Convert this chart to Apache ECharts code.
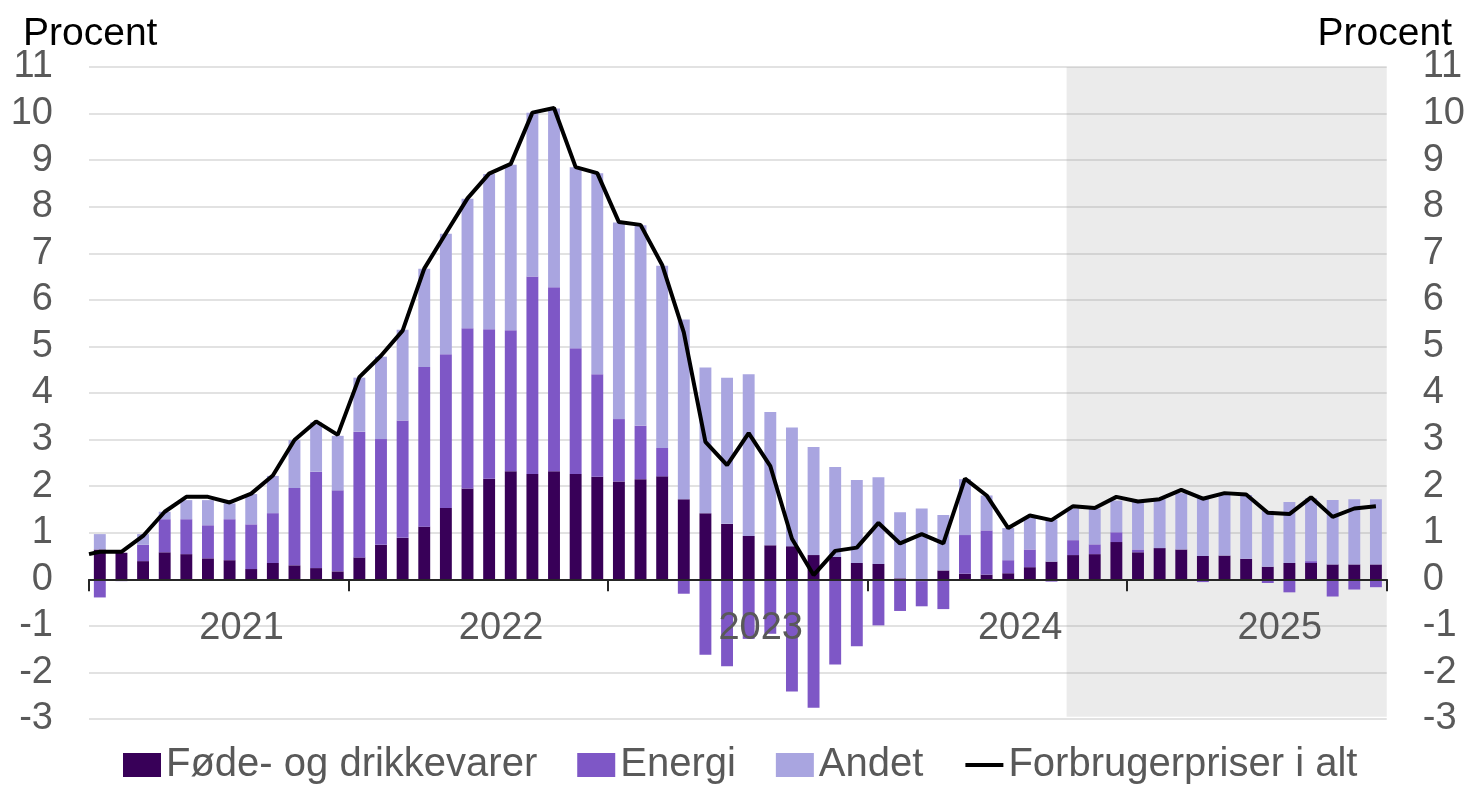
<!DOCTYPE html>
<html>
<head>
<meta charset="utf-8">
<script src="https://cdn.jsdelivr.net/npm/echarts@6/dist/echarts.min.js"></script>
<style>
html, body { margin: 0; padding: 0; background: #fff; }
#main { width: 1468px; height: 786px; }
</style>
</head>
<body>
<div id="main"></div>
<script>
// år og måneder (jan 2021 - dec 2025)
var years = ['2021', '2022', '2023', '2024', '2025'];
var months = [];
for (var y = 0; y < years.length; y++)
    for (var m = 1; m <= 12; m++) {
    months.push(years[y] + 'M' + (m < 10 ? '0' + m : m));
}

// bidrag, procentpoint
var foede = [
    0.64, 0.57, 0.39, 0.58, 0.54, 0.45, 0.41, 0.22, 0.35, 0.30, 0.24, 0.17,
    0.47, 0.74, 0.89, 1.13, 1.53, 1.95, 2.16, 2.32, 2.26, 2.32, 2.26, 2.20,
    2.10, 2.15, 2.21, 1.72, 1.42, 1.19, 0.93, 0.73, 0.71, 0.52, 0.48, 0.35,
    0.33, 0.02, -0.04, 0.19, 0.12, 0.10, 0.13, 0.26, 0.38, 0.52, 0.54, 0.80,
    0.58, 0.67, 0.64, 0.50, 0.51, 0.44, 0.27, 0.35, 0.35, 0.32, 0.32, 0.32
];
var energi = [
    -0.39, -0.04, 0.35, 0.71, 0.75, 0.71, 0.88, 0.96, 1.07, 1.66, 2.07, 1.74,
    2.70, 2.27, 2.52, 3.43, 3.30, 3.44, 3.21, 3.03, 4.24, 3.95, 2.70, 2.20,
    1.34, 1.15, 0.61, -0.31, -1.62, -1.87, -1.28, -1.17, -2.41, -2.76, -1.83, -1.44,
    -0.99, -0.68, -0.54, -0.64, 0.83, 0.95, 0.28, 0.38, -0.05, 0.32, 0.21, 0.21,
    0.06, 0, 0, -0.06, 0, 0, -0.08, -0.28, 0.04, -0.37, -0.22, -0.17
];
var andet = [
    0.33, 0, 0.23, 0.16, 0.41, 0.54, 0.34, 0.65, 0.80, 1.03, 1.06, 1.17,
    1.16, 1.77, 1.95, 2.11, 2.59, 2.78, 3.33, 3.55, 3.52, 3.84, 3.89, 4.32,
    4.22, 4.30, 3.91, 3.86, 3.13, 3.14, 3.47, 2.86, 2.55, 2.32, 1.93, 1.78,
    1.86, 1.42, 1.52, 1.19, 1.20, 0.75, 0.69, 0.68, 0.90, 0.68, 0.77, 0.68,
    1.03, 1.05, 1.21, 1.24, 1.30, 1.37, 1.20, 1.31, 1.35, 1.38, 1.40, 1.40
];
var forbrugerpriser = [
    0.59, 0.59, 0.93, 1.45, 1.77, 1.77, 1.65, 1.84, 2.23, 2.99, 3.39, 3.10,
    4.34, 4.80, 5.34, 6.67, 7.43, 8.18, 8.71, 8.92, 10.02, 10.12, 8.85, 8.72,
    7.67, 7.61, 6.75, 5.30, 2.95, 2.45, 3.14, 2.43, 0.87, 0.09, 0.61, 0.68,
    1.21, 0.77, 0.97, 0.77, 2.16, 1.80, 1.10, 1.37, 1.27, 1.57, 1.53, 1.77,
    1.67, 1.72, 1.92, 1.73, 1.85, 1.82, 1.43, 1.40, 1.76, 1.34, 1.52, 1.57
];
var forbrugerpriserStart = 0.54; // linjen starter ved venstre kant
var prognoseFra = 45.2; // fra okt 2024 -> skygget område
var prognoseTil = 60.4;

var yTicks = { min: -3, max: 11, interval: 1 };

var font = 'Liberation Sans, Arial, sans-serif';
var grey = '#595959';

// linjen ligger på en skjult værdiakse (0..60) så den kan starte ved kanten
var linjeData = [[0, forbrugerpriserStart]];
for (var i = 0; i < forbrugerpriser.length; i++) {
    linjeData.push([i + 0.5, forbrugerpriser[i]]);
}

var yLabel = {
    color: grey,
    fontSize: 38,
    fontFamily: font,
    margin: 36
};

var gridTop = 67, gridBottom = 67, plotH = 786 - gridTop - gridBottom;
// x-aksen ligger ved 0: flyt den op fra bunden
var zeroOffset = -plotH * (0 - yTicks.min) / (yTicks.max - yTicks.min);

option = {
    animation: false,
    backgroundColor: '#fff',
    title: [
        { text: 'Procent', left: 23, top: 15, padding: 0,
          textStyle: { color: '#000', fontSize: 39, fontWeight: 'normal', fontFamily: font } },
        { text: 'Procent', right: 16, top: 15, padding: 0,
          textStyle: { color: '#000', fontSize: 39, fontWeight: 'normal', fontFamily: font } }
    ],
    grid: { left: 89, right: 81, top: gridTop, bottom: gridBottom },
    legend: {
        left: 123,
        top: 745,
        padding: 0,
        itemGap: 40,
        itemWidth: 38,
        itemHeight: 24,
        textStyle: { color: grey, fontSize: 40, fontFamily: font },
        data: [
            { name: 'Føde- og drikkevarer', icon: 'rect' },
            { name: 'Energi', icon: 'rect' },
            { name: 'Andet', icon: 'rect' },
            { name: 'Forbrugerpriser i alt', itemStyle: { opacity: 0 },
              lineStyle: { width: 4, color: '#000' } }
        ]
    },
    xAxis: [
        {
            type: 'category',
            data: months,
            position: 'bottom',
            offset: zeroOffset,
            zlevel: 1,
            z: 10,
            axisLine: { onZero: false, lineStyle: { color: '#262626', width: 2 } },
            axisTick: {
                show: true,
                interval: function (idx) { return idx % 12 === 0; },
                length: 12,
                lineStyle: { color: '#262626', width: 2 }
            },
            axisLabel: {
                interval: function (idx) { return idx % 12 === 6; },
                formatter: function (v) { return v.slice(0, 4); },
                color: grey,
                fontSize: 38,
                fontFamily: font,
                margin: 30,
                padding: [0, 0, 0, 24]
            },
            splitLine: { show: false }
        },
        {
            type: 'value',
            min: 0,
            max: 60,
            show: false
        }
    ],
    yAxis: [
        {
            type: 'value',
            min: yTicks.min,
            max: yTicks.max,
            interval: yTicks.interval,
            position: 'left',
            axisLine: { show: false },
            axisTick: { show: false },
            axisLabel: yLabel,
            splitLine: { lineStyle: { color: '#D9D9D9', width: 1.5 } }
        },
        {
            type: 'value',
            min: yTicks.min,
            max: yTicks.max,
            interval: yTicks.interval,
            position: 'right',
            axisLine: { show: false },
            axisTick: { show: false },
            axisLabel: yLabel,
            splitLine: { show: false }
        }
    ],
    series: [
        {
            name: 'Føde- og drikkevarer',
            type: 'bar',
            stack: 'bidrag',
            barCategoryGap: '45%',
            itemStyle: { color: '#380058' },
            data: foede
        },
        {
            name: 'Energi',
            type: 'bar',
            stack: 'bidrag',
            itemStyle: { color: '#7E57C6' },
            data: energi
        },
        {
            name: 'Andet',
            type: 'bar',
            stack: 'bidrag',
            itemStyle: { color: '#A9A5E0' },
            data: andet
        },
        {
            name: 'Forbrugerpriser i alt',
            type: 'line',
            xAxisIndex: 1,
            symbol: 'none',
            lineStyle: { color: '#000', width: 4 },
            itemStyle: { color: '#000' },
            data: linjeData,
            z: 5
        },
        {
            type: 'line',
            xAxisIndex: 1,
            data: [],
            clip: false,
            z: 20,
            markArea: {
                silent: true,
                itemStyle: { color: 'rgba(155,155,155,0.2)' },
                data: [[
                    { coord: [prognoseFra, 11.05] },
                    { coord: [prognoseTil, -2.95] }
                ]]
            }
        }
    ]
};

var myChart = echarts.init(document.getElementById('main'));
myChart.setOption(option);
</script>
</body>
</html>
